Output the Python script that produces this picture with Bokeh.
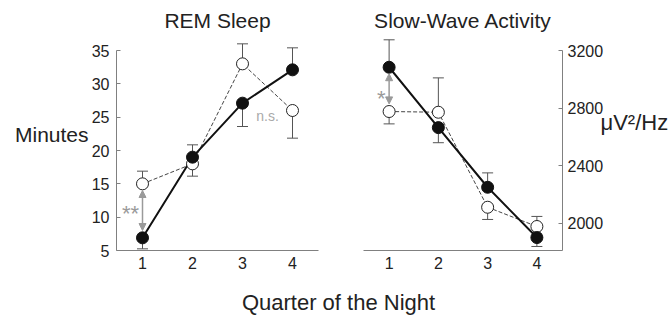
from bokeh.plotting import figure
from bokeh.models import (Range1d, ColumnDataSource, Whisker, TeeHead, Arrow,
                          NormalHead, Label, FixedTicker, LinearAxis)
from bokeh.layouts import row, column
from bokeh.embed import file_html
from bokeh.resources import INLINE

# ---------------- data ----------------
quarters = [1, 2, 3, 4]

rem_filled = [6.9, 19.0, 27.1, 32.1]
rem_filled_err = [5.25, 20.85, 23.6, 35.4]
rem_open = [15.0, 18.0, 33.0, 26.0]
rem_open_err = [16.9, 16.15, 36.0, 21.85]

swa_filled = [3085, 2665, 2250, 1900]
swa_filled_err = [3276, 2560, 2350, 1838]
swa_open = [2777, 2772, 2111, 1977]
swa_open_err = [2691, 3011, 2026, 2047]

rem_ticks = [5, 10, 15, 20, 25, 30, 35]
swa_ticks = [2000, 2400, 2800, 3200]

FONT = "Liberation Sans"
TXT = "#222222"
AX = "#808080"
GREY = "#9a9a9a"


def style(p, yticks, ybounds):
    p.outline_line_color = None
    p.xgrid.grid_line_color = None
    p.ygrid.grid_line_color = None
    p.background_fill_color = "white"
    p.border_fill_color = "white"
    for ax in p.xaxis:
        ax.ticker = FixedTicker(ticks=quarters)
        ax.major_tick_line_color = None
        ax.minor_tick_line_color = None
        ax.axis_line_color = AX
        ax.major_label_text_font = FONT
        ax.major_label_text_font_size = "16px"
        ax.major_label_text_color = TXT
        ax.major_label_standoff = 0
    for ax in p.yaxis:
        ax.ticker = FixedTicker(ticks=yticks)
        ax.major_tick_in = 4
        ax.major_tick_out = 0
        ax.major_tick_line_color = AX
        ax.minor_tick_line_color = None
        ax.axis_line_color = AX
        ax.bounds = ybounds
        ax.major_label_text_font = FONT
        ax.major_label_text_font_size = "16px"
        ax.major_label_text_color = TXT
    p.title.text_font = FONT
    p.title.text_font_size = "21px"
    p.title.text_font_style = "normal"
    p.title.text_color = TXT
    p.title.align = "center"
    p.title.standoff = 11


def label_axis(pos, text, standoff, size):
    return LinearAxis(ticker=FixedTicker(ticks=[pos]), major_label_overrides={pos: text},
                      axis_line_color=None, major_tick_line_color=None,
                      minor_tick_line_color=None, major_label_text_font=FONT,
                      major_label_text_font_size=size, major_label_text_color=TXT,
                      major_label_standoff=standoff)


def series(p, filled, filled_err, opn, opn_err):
    for vals, errs in ((filled, filled_err), (opn, opn_err)):
        src = ColumnDataSource(dict(
            x=quarters,
            lo=[min(v, e) for v, e in zip(vals, errs)],
            hi=[max(v, e) for v, e in zip(vals, errs)]))
        w = Whisker(base="x", lower="lo", upper="hi", source=src,
                    line_color="#555555", line_width=1,
                    upper_head=TeeHead(size=11, line_color="#555555", line_width=1),
                    lower_head=TeeHead(size=11, line_color="#555555", line_width=1))
        p.add_layout(w)
    p.line(quarters, opn, line_color="#444444", line_width=1, line_dash="4 2")
    p.line(quarters, filled, line_color="#111111", line_width=2)
    p.scatter(quarters, opn, size=12, fill_color="white", line_color="#222222", line_width=1)
    p.scatter(quarters, filled, size=12, fill_color="#111111", line_color="#111111")


# ---------------- left panel: REM sleep ----------------
p1 = figure(width=340, height=283, x_range=Range1d(0.48, 4.52), y_range=Range1d(5, 36.95),
            title="REM Sleep", output_backend="svg", toolbar_location=None,
            min_border_left=116, min_border_right=22, min_border_top=37, min_border_bottom=33)
style(p1, rem_ticks, (5, 35))
p1.title.offset = 4
p1.yaxis.major_label_standoff = 7
p1.add_layout(label_axis(22.4, "Minutes", -6, "21px"), "left")
series(p1, rem_filled, rem_filled_err, rem_open, rem_open_err)

p1.add_layout(Arrow(x_start=1, y_start=14.0, x_end=1, y_end=8.0,
                    line_color=GREY, line_width=1.5,
                    start=NormalHead(size=7, fill_color=GREY, line_color=GREY),
                    end=NormalHead(size=7, fill_color=GREY, line_color=GREY)))
p1.add_layout(Label(x=0.93, y=10.5, text="**", text_align="right", text_baseline="middle",
                    text_font=FONT, text_font_size="22px", text_color=GREY))
p1.add_layout(Label(x=3.5, y=25.2, text="n.s.", text_align="center", text_baseline="middle",
                    text_font=FONT, text_font_size="14px", text_color="#aaaaaa"))

# ---------------- right panel: slow-wave activity ----------------
p2 = figure(width=331, height=283, x_range=Range1d(0.48, 4.52), y_range=Range1d(1810, 3292),
            title="Slow-Wave Activity", y_axis_location="right",
            output_backend="svg", toolbar_location=None,
            min_border_left=23, min_border_right=106, min_border_top=37, min_border_bottom=33)
style(p2, swa_ticks, (1810, 3200))
p2.yaxis.major_label_standoff = 5
p2.add_layout(label_axis(2700, "\u03bcV\u00b2/Hz", -12, "22px"), "right")
series(p2, swa_filled, swa_filled_err, swa_open, swa_open_err)

p2.add_layout(Arrow(x_start=1, y_start=3040, x_end=1, y_end=2830,
                    line_color=GREY, line_width=1.5,
                    start=NormalHead(size=7, fill_color=GREY, line_color=GREY),
                    end=NormalHead(size=7, fill_color=GREY, line_color=GREY)))
p2.add_layout(Label(x=0.93, y=2870, text="*", text_align="right", text_baseline="middle",
                    text_font=FONT, text_font_size="22px", text_color=GREY))

# ---------------- bottom label ----------------
p3 = figure(width=671, height=37, x_range=Range1d(0, 1), y_range=Range1d(0, 1),
            output_backend="svg", toolbar_location=None,
            min_border_left=0, min_border_right=0, min_border_top=0, min_border_bottom=0)
p3.axis.visible = False
p3.xgrid.grid_line_color = None
p3.ygrid.grid_line_color = None
p3.outline_line_color = None
p3.add_layout(Label(x=338 / 671, y=0.5, text="Quarter of the Night", text_align="center",
                    text_baseline="middle", text_font=FONT, text_font_size="22px",
                    text_color=TXT))

layout = column(row(p1, p2), p3)
open("out.html", "w").write(file_html(layout, INLINE))
